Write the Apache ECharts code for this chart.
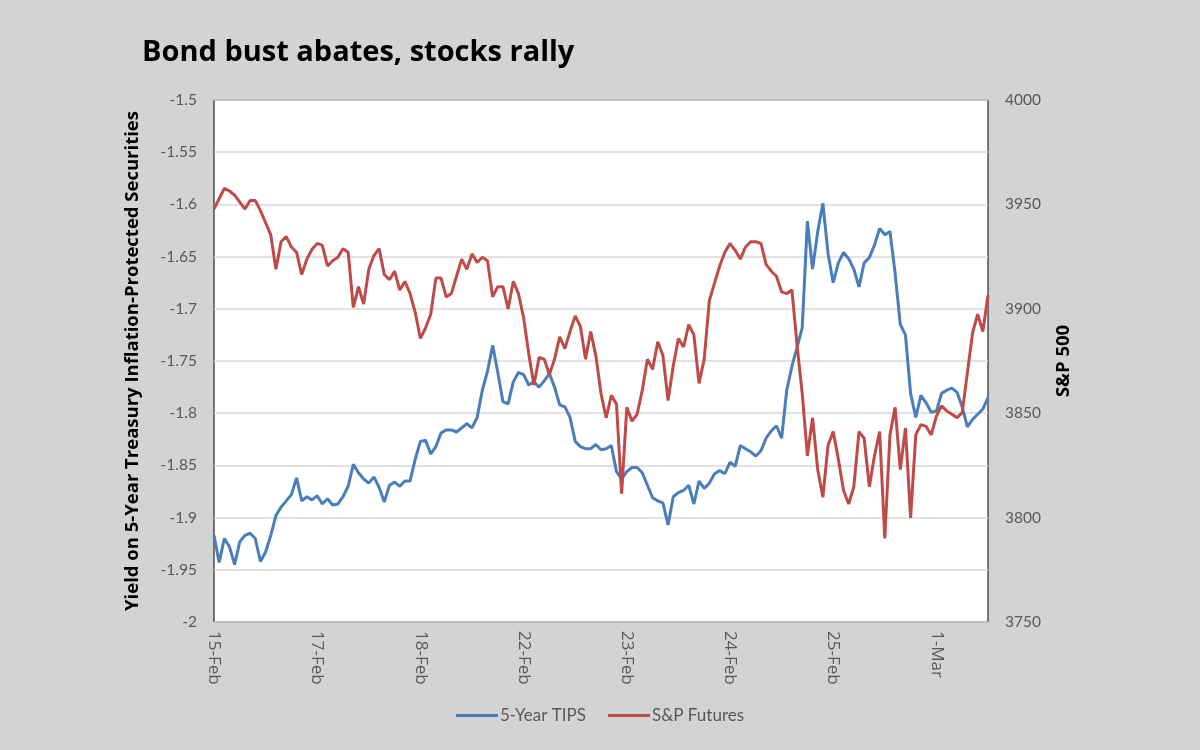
<!DOCTYPE html>
<html>
<head>
<meta charset="utf-8">
<script src="https://cdn.jsdelivr.net/npm/echarts@6/dist/echarts.min.js"></script>
<style>
html,body{margin:0;padding:0;background:#d3d3d3;}
#chart{width:1200px;height:750px;}
</style>
</head>
<body>
<div id="chart"></div>
<script>
// Day labels at each tick (20 intraday samples per day)
const dayLabels = ['15-Feb','17-Feb','18-Feb','22-Feb','23-Feb','24-Feb','25-Feb','1-Mar'];
const samplesPerDay = 20;

// 5-Year TIPS yield (left axis)
const tips = [
 -1.917, -1.943, -1.920, -1.928, -1.945, -1.923, -1.917, -1.915, -1.920, -1.942,
 -1.933, -1.917, -1.898, -1.890, -1.884, -1.878, -1.862, -1.884, -1.880, -1.883,
 -1.879, -1.887, -1.882, -1.888, -1.887, -1.880, -1.870, -1.849, -1.857, -1.863,
 -1.867, -1.861, -1.871, -1.885, -1.869, -1.866, -1.870, -1.865, -1.865, -1.844,
 -1.827, -1.826, -1.839, -1.832, -1.819, -1.816, -1.816, -1.818, -1.814, -1.810,
 -1.814, -1.804, -1.778, -1.760, -1.735, -1.761, -1.789, -1.791, -1.770, -1.761,
 -1.763, -1.773, -1.770, -1.775, -1.769, -1.762, -1.775, -1.792, -1.794, -1.804,
 -1.827, -1.832, -1.834, -1.834, -1.830, -1.835, -1.834, -1.831, -1.856, -1.863,
 -1.856, -1.852, -1.852, -1.857, -1.869, -1.881, -1.884, -1.886, -1.907, -1.880,
 -1.876, -1.874, -1.869, -1.887, -1.865, -1.872, -1.867, -1.858, -1.855, -1.858,
 -1.847, -1.851, -1.831, -1.834, -1.837, -1.841, -1.836, -1.824, -1.817, -1.812,
 -1.824, -1.778, -1.755, -1.737, -1.718, -1.616, -1.662, -1.626, -1.599, -1.647,
 -1.675, -1.656, -1.646, -1.652, -1.662, -1.679, -1.656, -1.651, -1.639, -1.623,
 -1.629, -1.626, -1.666, -1.715, -1.725, -1.781, -1.804, -1.783, -1.790, -1.799,
 -1.798, -1.781, -1.778, -1.776, -1.780, -1.794, -1.813, -1.806, -1.801, -1.796,
 -1.785
];

// S&P futures (right axis)
const spx = [
 3947.8, 3952.7, 3957.7, 3956.4, 3954.4, 3951.1, 3947.8, 3951.9, 3951.9, 3947.0,
 3941.2, 3935.4, 3918.9, 3932.1, 3934.6, 3929.6, 3927.1, 3916.4, 3923.8, 3928.5,
 3931.3, 3930.4, 3920.5, 3923.0, 3924.7, 3928.8, 3927.1, 3900.7, 3910.6, 3902.3,
 3918.9, 3925.5, 3928.8, 3916.4, 3913.9, 3918.0, 3909.0, 3913.1, 3907.3, 3898.2,
 3885.8, 3890.8, 3897.4, 3914.7, 3914.7, 3905.7, 3907.3, 3915.6, 3923.8, 3918.9,
 3926.3, 3922.2, 3924.7, 3923.0, 3905.7, 3910.6, 3910.6, 3899.9, 3913.1, 3907.3,
 3895.7, 3878.4, 3863.5, 3876.7, 3875.9, 3868.5, 3875.9, 3886.6, 3880.9, 3889.1,
 3896.6, 3891.6, 3875.9, 3889.1, 3877.6, 3859.4, 3847.8, 3858.6, 3854.4, 3811.5,
 3852.8, 3846.2, 3849.5, 3861.0, 3875.9, 3871.0, 3884.2, 3877.6, 3856.1, 3872.6,
 3885.8, 3881.7, 3892.4, 3887.5, 3864.3, 3875.9, 3904.0, 3912.3, 3920.5, 3927.1,
 3931.3, 3928.0, 3923.8, 3929.6, 3932.1, 3932.1, 3931.3, 3921.3, 3918.0, 3915.6,
 3908.1, 3907.3, 3909.0, 3882.5, 3859.4, 3829.6, 3847.8, 3823.0, 3809.8, 3834.6,
 3841.2, 3828.0, 3813.1, 3806.5, 3814.8, 3841.2, 3837.9, 3814.8, 3829.6, 3841.2,
 3790.0, 3839.6, 3852.8, 3823.0, 3842.9, 3799.9, 3839.6, 3844.5, 3843.7, 3839.6,
 3848.6, 3853.6, 3851.1, 3849.5, 3847.8, 3850.3, 3869.3, 3888.3, 3897.4, 3889.1,
 3906.5
];

const leftTicks = {min: -2, max: -1.5, interval: 0.05};
const rightTicks = {min: 3750, max: 4000, interval: 50};

const tipsData = tips.map((v, i) => [i, v]);
const spxData = spx.map((v, i) => [i, v]);
const lastIndex = tips.length - 1;

const chart = echarts.init(document.getElementById('chart'), null, {renderer: 'canvas'});
const labelColor = '#595959';
const font = 'Lato';
const boldFont = 'Open Sans';

chart.setOption({
  backgroundColor: '#d3d3d3',
  animation: false,
  title: {
    text: 'Bond bust abates, stocks rally',
    left: 137, top: 33,
    textStyle: {fontFamily: boldFont, fontWeight: 'bold', fontSize: 29, color: '#000'}
  },
  legend: {
    bottom: 21, left: 'center',
    icon: 'rect', itemWidth: 42, itemHeight: 3, itemGap: 22,
    textStyle: {fontFamily: font, fontSize: 17, color: labelColor, padding: [0,0,0,-3]},
    data: ['5-Year TIPS', 'S&P Futures']
  },
  grid: {
    left: 214, right: 212, top: 100, bottom: 128,
    show: true, backgroundColor: '#ffffff', borderColor: '#000000', borderWidth: 1
  },
  xAxis: {
    type: 'value', min: 0, max: lastIndex, interval: samplesPerDay,
    axisLine: {show: false}, axisTick: {show: false}, splitLine: {show: false},
    axisLabel: {
      rotate: -90, margin: 9, color: labelColor, fontFamily: boldFont, fontSize: 17,
      showMaxLabel: false,
      formatter: v => (v % samplesPerDay === 0 && dayLabels[v / samplesPerDay]) ? dayLabels[v / samplesPerDay] : ''
    }
  },
  yAxis: [{
    type: 'value', min: leftTicks.min, max: leftTicks.max, interval: leftTicks.interval,
    name: 'Yield on 5-Year Treasury Inflation-Protected Securities',
    nameLocation: 'middle', nameGap: 72, nameRotate: 90,
    nameTextStyle: {fontFamily: boldFont, fontWeight: 'bold', fontSize: 18.5, color: '#000'},
    axisLine: {show: false}, axisTick: {show: false},
    axisLabel: {margin: 17, color: labelColor, fontFamily: font, fontSize: 15.5,
      formatter: v => String(Math.round(v * 100) / 100)},
    splitLine: {show: true, lineStyle: {color: '#d9d9d9', width: 1.5}}
  }, {
    type: 'value', min: rightTicks.min, max: rightTicks.max, interval: rightTicks.interval,
    position: 'right',
    name: 'S&P 500',
    nameLocation: 'middle', nameGap: 66, nameRotate: 90,
    nameTextStyle: {fontFamily: boldFont, fontWeight: 'bold', fontSize: 18.5, color: '#000'},
    axisLine: {show: false}, axisTick: {show: false},
    axisLabel: {margin: 17, color: labelColor, fontFamily: font, fontSize: 15.5,
      formatter: v => String(v)},
    splitLine: {show: false}
  }],
  series: [{
    name: '5-Year TIPS', type: 'line', yAxisIndex: 0, data: tipsData,
    showSymbol: false, symbol: 'none', smooth: false,
    lineStyle: {color: '#4a7ebb', width: 3}, itemStyle: {color: '#4a7ebb'}
  }, {
    name: 'S&P Futures', type: 'line', yAxisIndex: 1, data: spxData,
    showSymbol: false, symbol: 'none', smooth: false,
    lineStyle: {color: '#be4b48', width: 3}, itemStyle: {color: '#be4b48'}
  }]
});
</script>
</body>
</html>
